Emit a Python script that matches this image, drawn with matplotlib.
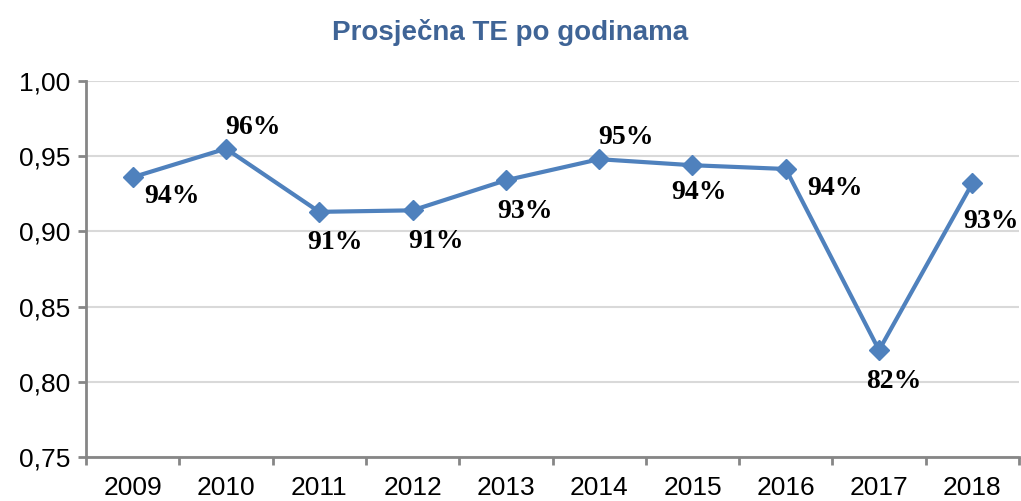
import matplotlib
matplotlib.use("Agg")
import matplotlib.pyplot as plt
from matplotlib.ticker import FixedLocator

years = ["2009", "2010", "2011", "2012", "2013", "2014", "2015", "2016", "2017", "2018"]
te = [0.936, 0.955, 0.913, 0.914, 0.934, 0.948, 0.944, 0.9415, 0.821, 0.932]
labels = ["94%", "96%", "91%", "91%", "93%", "95%", "94%", "94%", "82%", "93%"]
label_offsets = [(39, -19), (27, 21), (16, -31), (23, -31), (19, -31),
                 (27, 22), (7, -27), (49, -20), (15, -31), (19, -38)]
yticks = [0.75, 0.80, 0.85, 0.90, 0.95, 1.00]

fig = plt.figure(figsize=(10.21, 5.01), dpi=100)
ax = fig.add_axes([86/1021, 1-457/501, (1019-86)/1021, (457-81)/501])

x = list(range(len(years)))
ax.plot(x, te, color="#4F81BD", lw=3, marker="D", ms=10, zorder=3)

for xi, yi, lab, (dx, dy) in zip(x, te, labels, label_offsets):
    ax.annotate(lab, (xi, yi), xytext=(dx, dy), textcoords="offset pixels",
                ha="center", va="center", fontsize=20, fontweight="bold",
                family="Liberation Serif", color="black")

ax.set_xlim(-0.5, len(years) - 0.5)
ax.set_ylim(0.75, 1.00)
ax.set_yticks(yticks)
ax.set_yticklabels([f"{v:.2f}".replace(".", ",") for v in yticks],
                   fontsize=19, family="Liberation Sans")
ax.set_xticks(x)
ax.set_xticklabels(years, fontsize=19, family="Liberation Sans")
ax.xaxis.set_minor_locator(FixedLocator([i - 0.5 for i in range(len(years) + 1)]))
ax.tick_params(axis="x", which="major", length=0, pad=14)
ax.tick_params(axis="x", which="minor", length=6, width=2, color="#868686")
ax.tick_params(axis="y", length=6, width=2, color="#868686", pad=5)

ax.grid(axis="y", color="#D9D9D9", lw=1.5)
ax.set_axisbelow(True)
for s in ["top", "right"]:
    ax.spines[s].set_visible(False)
for s in ["left", "bottom"]:
    ax.spines[s].set_color("#868686")
    ax.spines[s].set_linewidth(2)

fig.text(0.5, 1-32/501, "Prosječna TE po godinama", ha="center", va="center",
         fontsize=20, fontweight="bold", color="#3F6496",
         family="Liberation Sans")

fig.savefig("out.png", dpi=100)
